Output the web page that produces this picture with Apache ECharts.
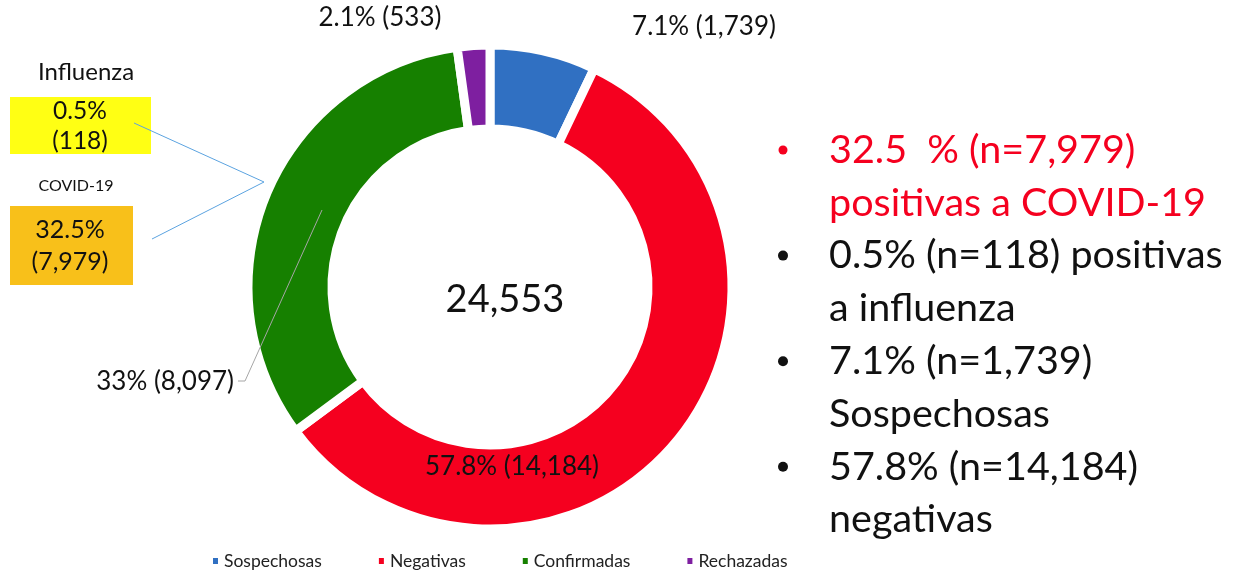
<!DOCTYPE html>
<html>
<head>
<meta charset="utf-8">
<script src="https://cdn.jsdelivr.net/npm/echarts@6/dist/echarts.min.js"></script>
<style>
html, body { margin: 0; padding: 0; background: #fff; }
#chart { width: 1241px; height: 577px; }
</style>
</head>
<body>
<div id="chart"></div>
<script>
// categorias del anillo
var categorias = ['Sospechosas', 'Negativas', 'Confirmadas', 'Rechazadas'];
var valores = [1739, 14184, 8097, 533];
var porcentajes = ['7.1%', '57.8%', '33%', '2.1%'];
var colores = ['#3070c2', '#f5001f', '#168000', '#7e1fa0'];

// recuadros de la izquierda
var influenza = { pct: '0.5%', n: 118 };
var covid = { pct: '32.5%', n: 7979 };

// texto de la derecha (una linea por renglon, bullet true = lleva viñeta)
var lineasDerecha = [
	{ t: '32.5  % (n=7,979)', bullet: true, red: true },
	{ t: 'positivas a COVID-19', bullet: false, red: true },
	{ t: '0.5% (n=118) positivas', bullet: true },
	{ t: 'a influenza', bullet: false },
	{ t: '7.1% (n=1,739)', bullet: true },
	{ t: 'Sospechosas', bullet: false },
	{ t: '57.8% (n=14,184)', bullet: true },
	{ t: 'negativas', bullet: false }
];

var fuente = 'Lato, "Open Sans", sans-serif';

function miles(n) {
	return n.toLocaleString('en-US');
}

var total = 0;
for (var i = 0; i < valores.length; i++) {
	total += valores[i];
}

// donde va cada etiqueta
var posEtiquetas = [
	[704, 27, 'center'],
	[512, 467, 'center'],
	[234, 382, 'right'],
	[380, 18, 'center']
];

var data = [];
for (var i = 0; i < categorias.length; i++) {
	data.push({
		name: categorias[i],
		value: valores[i],
		pct: porcentajes[i],
		itemStyle: { color: colores[i] }
	});
}

var graficos = [];
// total en el centro
graficos.push({
	type: 'text', x: 505, y: 300, z: 10,
	style: { text: miles(total), fontSize: 38, fontFamily: fuente, fill: '#111', align: 'center', verticalAlign: 'middle' }
});
// linea guia de la etiqueta de confirmadas
graficos.push({ type: 'polyline', z: 10, shape: { points: [[322, 210], [245, 381], [238, 381]] }, style: { stroke: '#a6a6a6', lineWidth: 1, fill: null } });
// recuadros influenza / covid
graficos.push({ type: 'text', x: 86, y: 72, style: { text: 'Influenza', fontSize: 24, fontFamily: fuente, fill: '#111', align: 'center', verticalAlign: 'middle' } });
graficos.push({ type: 'rect', shape: { x: 10, y: 97, width: 141, height: 57 }, style: { fill: '#ffff14' } });
graficos.push({ type: 'text', x: 80, y: 126, style: { text: influenza.pct + '\n(' + miles(influenza.n) + ')', fontSize: 24.5, lineHeight: 30, fontFamily: fuente, fill: '#111', align: 'center', verticalAlign: 'middle' } });
graficos.push({ type: 'text', x: 76, y: 186, style: { text: 'COVID-19', fontSize: 16, fontFamily: fuente, fill: '#111', align: 'center', verticalAlign: 'middle' } });
graficos.push({ type: 'rect', shape: { x: 10, y: 206, width: 123, height: 79 }, style: { fill: '#f8c01a' } });
graficos.push({ type: 'text', x: 70, y: 246, style: { text: covid.pct + '\n(' + miles(covid.n) + ')', fontSize: 25, lineHeight: 32, fontFamily: fuente, fill: '#111', align: 'center', verticalAlign: 'middle' } });
graficos.push({ type: 'polyline', z: 5, shape: { points: [[134, 123], [264, 182], [152, 239]] }, style: { stroke: '#5ba3e0', lineWidth: 1, fill: null } });

// lista de la derecha
for (var k = 0; k < lineasDerecha.length; k++) {
	var ln = lineasDerecha[k];
	var y = 150 + k * 52.8;
	var col = ln.red ? '#f5001f' : '#111';
	if (ln.bullet) {
		graficos.push({ type: 'circle', shape: { cx: 783, cy: y, r: ln.red ? 4.5 : 5 }, style: { fill: col } });
	}
	graficos.push({ type: 'text', x: 829, y: y, style: { text: ln.t, fontSize: 39.5, fontFamily: fuente, fill: col, verticalAlign: 'middle' } });
}

var myChart = echarts.init(document.getElementById('chart'));
var option = {
	animation: false,
	color: colores,
	legend: {
		data: categorias,
		bottom: 2,
		left: 206,
		icon: 'rect',
		itemWidth: 7,
		itemHeight: 8,
		itemGap: 55,
		textStyle: { fontFamily: fuente, fontSize: 17.5, color: '#222' }
	},
	series: [{
		type: 'pie',
		center: [490, 287],
		radius: [158, 242],
		startAngle: 90,
		clockwise: true,
		avoidLabelOverlap: false,
		itemStyle: { borderColor: '#fff', borderWidth: 9 },
		label: {
			show: true,
			position: 'outside',
			fontFamily: fuente,
			fontSize: 26,
			color: '#111',
			formatter: function (p) {
				return p.data.pct + ' (' + miles(p.value) + ')';
			}
		},
		labelLine: { show: false },
		labelLayout: function (params) {
			var p = posEtiquetas[params.dataIndex];
			return { x: p[0], y: p[1], align: p[2], verticalAlign: 'middle' };
		},
		data: data
	}],
	graphic: graficos
};
myChart.setOption(option);
</script>
</body>
</html>
